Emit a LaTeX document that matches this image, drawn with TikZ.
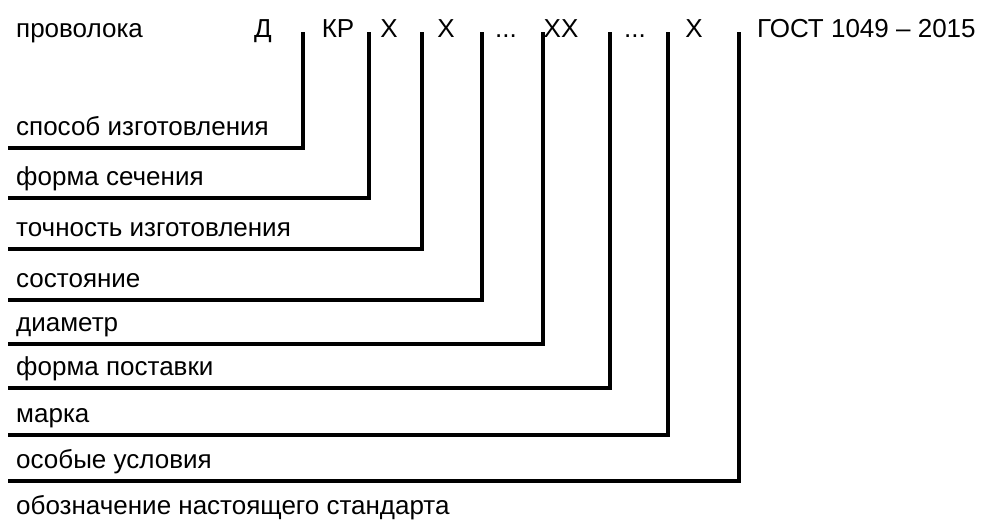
\documentclass[tikz,border=0pt]{standalone}
\usepackage{fontspec}
\setmainfont{Liberation Sans}
\usepackage{tikz}

\begin{document}
\begin{tikzpicture}[
  x=1pt, y=-1pt,
  every node/.style={font=\fontsize{26}{30}\selectfont, inner sep=0pt},
  code/.style={anchor=base},
  lbl/.style={anchor=base west},
  lead/.style={line width=3.2pt, line join=miter, line cap=butt}
]
\useasboundingbox (0,0) rectangle (989,531);

%% designation row
\node[lbl]  (wire) at (16,37)  {проволока};
\node[code] (cD)   at (263,37) {Д};
\node[code] (cKR)  at (338,37) {КР};
\node[code] (cX1)  at (389,37) {Х};
\node[code] (cX2)  at (446,37) {Х};
\node[code] (cd1)  at (506,37) {...};
\node[code] (cXX)  at (561,37) {ХХ};
\node[code] (cd2)  at (635,37) {...};
\node[code] (cX3)  at (694,37) {Х};
\node[lbl]  (gost) at (757,37) {ГОСТ 1049 -- 2015};

%% leaders: label, bottom line, riser
\foreach \n/\x/\y/\t in {
    a/303/148/способ изготовления,
    b/369/198/форма сечения,
    c/422/249/точность изготовления,
    d/482/300/состояние,
    e/543/344/диаметр,
    f/610/388/форма поставки,
    g/668/435/марка,
    h/739/481/особые условия}
{
  \node[lbl] (l\n) at (16,\y-13) {\t};
  \coordinate (e\n) at (8,\y);
  \coordinate (t\n) at (\x,32);
  \draw[lead] (e\n) -| (t\n);
}

%% last label
\node[lbl] (std) at (16,514) {обозначение настоящего стандарта};

\end{tikzpicture}
\end{document}
